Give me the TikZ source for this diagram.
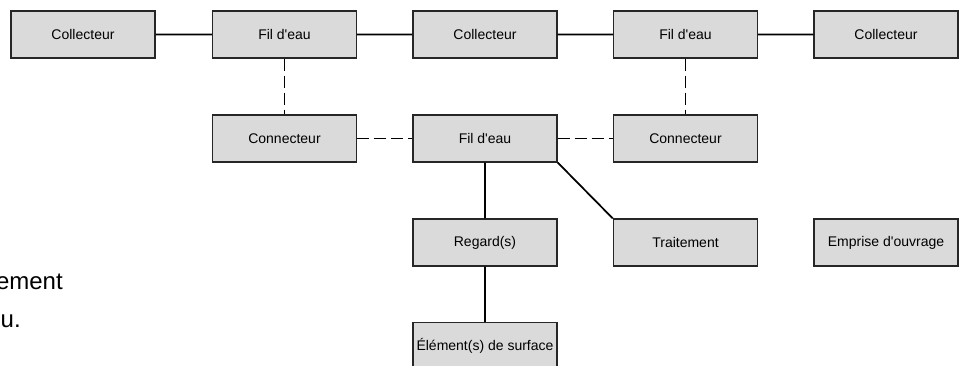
\documentclass[tikz,border=0pt]{standalone}
\usepackage{fontspec}
\setmainfont{Liberation Sans}[Ligatures=TeXOff]
\definecolor{boxgray}{RGB}{218,218,218}

\begin{document}
\begin{tikzpicture}[
    x=0.75pt, y=-0.75pt,
    obj node/.style={rectangle,draw=black!85,fill=boxgray,line width=1.1pt,minimum width=108pt,minimum height=35pt,inner sep=0pt,font=\fontsize{10.5}{12}\selectfont},
    link/.style={draw,line width=1.3pt},
    weak link/.style={link,dash pattern=on 9pt off 3.75pt},
    side text/.style={anchor=base east,inner sep=0pt,font=\fontsize{18}{22}\selectfont}
  ]
    \useasboundingbox (0,0) rectangle (967,365);

    % Top row: collectors and water lines
    \node[obj node] (COL1) at (83, 34.5)   {Collecteur};
    \node[obj node] (FIL1) at (284.5, 34.5) {Fil d'eau};
    \node[obj node] (COL2) at (485, 34.5)  {Collecteur};
    \node[obj node] (FIL2) at (685.5, 34.5) {Fil d'eau};
    \node[obj node] (COL3) at (886, 34.5)  {Collecteur};

    % Second row
    \node[obj node] (CON1) at (284.5, 138.5) {Connecteur};
    \node[obj node] (FIL3) at (485, 138.5)   {Fil d'eau};
    \node[obj node] (CON2) at (685.5, 138.5) {Connecteur};

    % Lower rows
    \node[obj node] (REG)  at (485, 242.5)   {Regard(s)};
    \node[obj node] (TRT)  at (685.5, 242.5) {Traitement};
    \node[obj node] (EMP)  at (886, 242.5)   {Emprise d'ouvrage};
    \node[obj node] (ELM)  at (485, 346)     {Élément(s) de surface};

    \path[link] (COL1) -- (FIL1)
                (FIL1) -- (COL2)
                (COL2) -- (FIL2)
                (FIL2) -- (COL3)
                (FIL3) -- (REG)
                (REG) -- (ELM)
                (FIL3.south east) -- (TRT.north west);

    \path[weak link] (FIL1) -- (CON1)
                     (FIL2) -- (CON2)
                     (CON1) -- (FIL3)
                     (FIL3) -- (CON2);

    % Text cut at the left border
    \node[side text] (txta) at (63, 289) {ement};
    \node[side text] (txtb) at (21, 327) {u.};
  \end{tikzpicture}
\end{document}
